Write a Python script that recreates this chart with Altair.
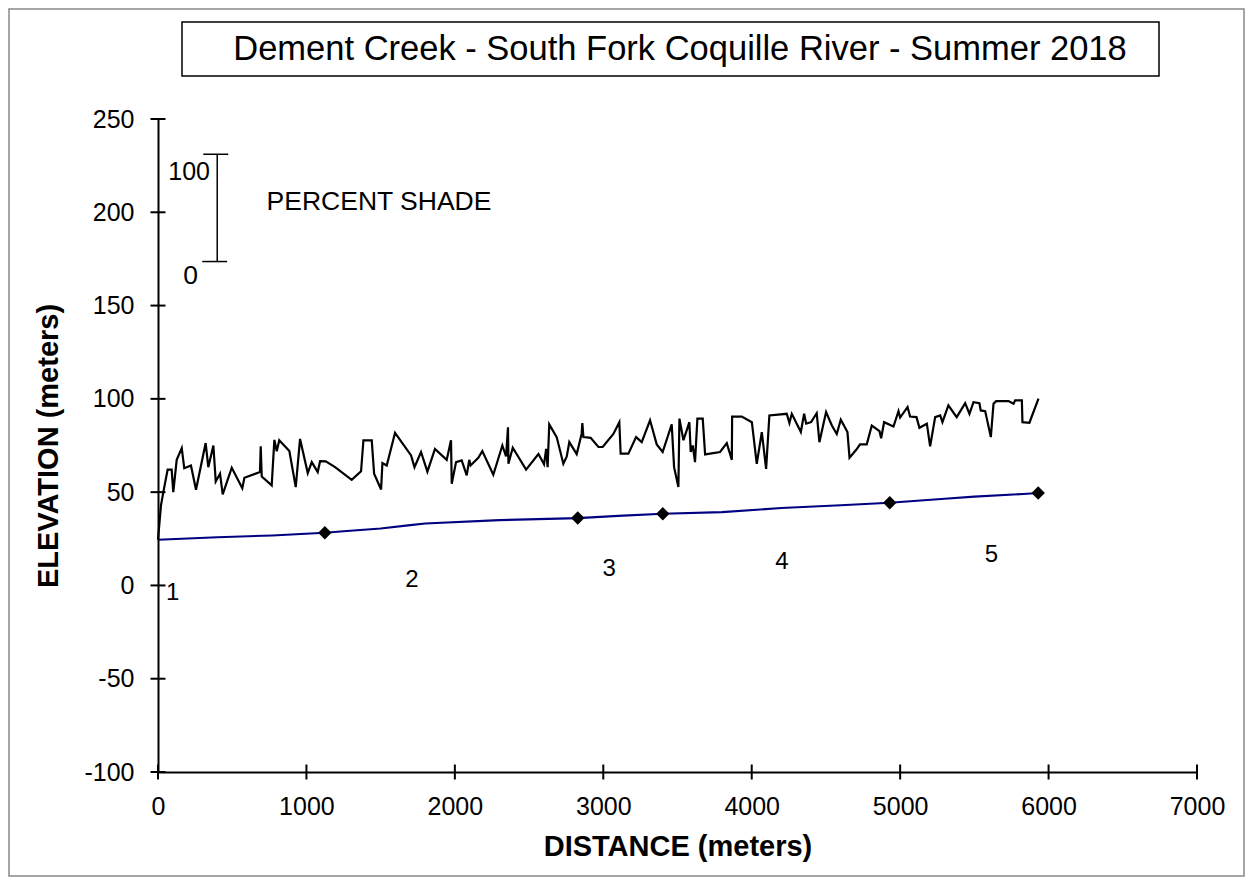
import altair as alt
import pandas as pd

# ---------------- data ----------------
shade_dist = [0, 20, 36, 65, 92, 103, 126, 160, 177, 222,
              256, 321, 339, 373, 389, 418, 436, 497, 568, 582,
              687, 692, 699, 766, 784, 800, 817, 885, 928, 957,
              1009, 1036, 1076, 1092, 1130, 1193, 1305, 1368, 1384, 1440,
              1456, 1503, 1512, 1541, 1597, 1705, 1728, 1772, 1815, 1866,
              1945, 1974, 1979, 2008, 2046, 2080, 2097, 2106, 2158, 2185,
              2259, 2320, 2345, 2358, 2361, 2390, 2480, 2563, 2601, 2615,
              2625, 2636, 2686, 2731, 2754, 2771, 2821, 2854, 2859, 2866,
              2915, 2967, 2996, 3068, 3108, 3117, 3169, 3221, 3259, 3315,
              3360, 3400, 3461, 3477, 3506, 3513, 3540, 3558, 3580, 3589,
              3603, 3618, 3634, 3670, 3686, 3787, 3832, 3866, 3868, 3933,
              4001, 4034, 4068, 4097, 4119, 4236, 4254, 4270, 4331, 4353,
              4367, 4400, 4438, 4456, 4501, 4540, 4573, 4600, 4645, 4659,
              4704, 4730, 4775, 4809, 4861, 4872, 4892, 4955, 4989, 5000,
              5050, 5067, 5110, 5130, 5180, 5202, 5236, 5270, 5285, 5325,
              5381, 5438, 5467, 5494, 5534, 5543, 5573, 5584, 5611, 5629,
              5647, 5730, 5764, 5775, 5820, 5824, 5871, 5932]
shade_elev = [24.5, 42.9, 50.0, 62.1, 62.1, 50.0, 67.3, 73.6, 62.8, 64.3,
              51.3, 76.3, 63.4, 75.0, 55.7, 59.9, 48.8, 63.1, 52.1, 57.7,
              60.8, 74.6, 58.4, 53.6, 78.0, 71.9, 77.8, 72.0, 52.7, 78.5,
              60.2, 66.1, 60.8, 66.6, 66.5, 63.4, 56.6, 61.2, 77.8, 77.8,
              59.9, 51.4, 65.6, 64.3, 81.8, 69.7, 63.4, 71.5, 61.0, 73.2,
              67.3, 77.8, 54.5, 66.1, 67.0, 59.0, 67.3, 64.3, 68.4, 72.0,
              59.3, 75.0, 69.1, 84.8, 65.2, 73.8, 62.1, 70.4, 64.9, 73.2,
              63.4, 86.3, 79.5, 65.2, 69.1, 76.8, 70.4, 81.2, 87.0, 79.5,
              79.1, 74.2, 74.2, 81.2, 87.5, 70.6, 70.6, 79.5, 76.8, 88.5,
              75.6, 71.5, 86.3, 63.4, 52.7, 89.4, 77.8, 82.2, 87.5, 71.5,
              75.0, 66.1, 89.4, 89.4, 70.2, 71.5, 76.3, 67.3, 90.5, 90.5,
              87.5, 65.2, 82.2, 62.5, 91.1, 92.0, 87.0, 92.0, 82.2, 92.0,
              86.7, 87.5, 92.3, 76.8, 92.9, 85.7, 81.2, 88.8, 82.2, 68.4,
              72.7, 75.6, 75.6, 85.7, 82.7, 78.9, 87.5, 85.2, 93.4, 90.0,
              95.6, 90.5, 90.2, 84.5, 86.7, 74.5, 90.2, 91.1, 87.5, 96.5,
              90.2, 97.7, 92.0, 98.2, 97.7, 93.8, 93.4, 89.4, 79.5, 97.4,
              98.8, 98.8, 97.4, 99.2, 99.2, 87.5, 87.2, 100.1]

elev_dist = [0, 400, 770, 1124, 1250, 1500, 1700, 1800, 2300, 2828,
             3100, 3401, 3800, 4200, 4600, 4930, 5300, 5500, 5831, 5930]
elev_vals = [24.5, 25.8, 26.8, 28.2, 29.0, 30.5, 32.3, 33.2, 35.0, 36.1,
             37.3, 38.4, 39.3, 41.5, 43.0, 44.3, 46.5, 47.6, 49.0, 49.5]

site_dist = [1124, 2828, 3401, 4930, 5930]
site_elev = [28.2, 36.1, 38.4, 44.3, 49.5]

reach_labels = ["1", "2", "3", "4", "5"]
reach_dist = [99, 1711, 3039, 4204, 5615]
reach_elev = [-3.8, 3.1, 8.9, 12.5, 16.1]

x_ticks = [0, 1000, 2000, 3000, 4000, 5000, 6000, 7000]
y_ticks = [-100, -50, 0, 50, 100, 150, 200, 250]

# scale bar for percent shade (drawn in data units)
bar_x = [399]
bar_y0 = [173.6]
bar_y1 = [231.1]
cap_x0 = [305, 298]
cap_x1 = [473, 466]
cap_y = [231.1, 173.6]
bar_text = ["100", "0", "PERCENT SHADE"]
bar_text_x = [350, 219, 1489]
bar_text_y = [221.5, 166.1, 205.3]
bar_text_align = ["right", "center", "center"]

title_text = "Dement Creek - South Fork Coquille River - Summer 2018"

FONT = "Liberation Sans"
W, H = 1039, 653
PAD = {"left": 150, "top": 111, "right": 48, "bottom": 105}

xs = alt.Scale(domain=[0, 7000], nice=False, zero=False)
ys = alt.Scale(domain=[-100, 250], nice=False, zero=False)

shade_df = pd.DataFrame([{"d": d, "e": e} for d, e in zip(shade_dist, shade_elev, strict=True)])
elev_df = pd.DataFrame([{"d": d, "e": e} for d, e in zip(elev_dist, elev_vals, strict=True)])
site_df = pd.DataFrame([{"d": d, "e": e} for d, e in zip(site_dist, site_elev, strict=True)])
reach_df = pd.DataFrame([{"t": t, "d": d, "e": e} for t, d, e in zip(reach_labels, reach_dist, reach_elev, strict=True)])
xt_df = pd.DataFrame({"v": x_ticks, "base": [-100] * len(x_ticks)})
yt_df = pd.DataFrame({"v": y_ticks, "base": [0] * len(y_ticks)})
bar_df = pd.DataFrame({"x": bar_x, "y0": bar_y0, "y1": bar_y1})
cap_df = pd.DataFrame({"x0": cap_x0, "x1": cap_x1, "y": cap_y})
btxt_df = pd.DataFrame({"t": bar_text, "x": bar_text_x, "y": bar_text_y, "a": bar_text_align})

one = alt.Data(values=[{}])

x_axis = alt.Axis(values=x_ticks, title="DISTANCE (meters)", grid=False, ticks=False, tickSize=0,
                  labelExpr="'' + datum.value",
                  labelFont=FONT, labelFontSize=25, labelColor="black", labelPadding=22,
                  domainColor="black", domainWidth=2, titleFont=FONT, titleFontSize=29,
                  titleFontWeight="bold", titleColor="black", titleBaseline="alphabetic",
                  titleAnchor="middle", titleX=W / 2, titleY=83, labelFlush=False,
                  labelOverlap=False, zindex=1)
y_axis = alt.Axis(values=y_ticks, title="ELEVATION (meters)", grid=False, ticks=False, tickSize=0,
                  labelExpr="'' + datum.value",
                  labelFont=FONT, labelFontSize=25, labelColor="black", labelPadding=24,
                  domainColor="black", domainWidth=2, titleFont=FONT, titleFontSize=29,
                  titleFontWeight="bold", titleColor="black", titleBaseline="alphabetic",
                  titleAnchor="middle", titleAngle=270, titleX=-101, titleY=H / 2,
                  labelFlush=False, labelOverlap=False, zindex=1)


def X(field):
    return alt.X(field, scale=xs, axis=x_axis)


def Y(field):
    return alt.Y(field, scale=ys, axis=y_axis)


frame = alt.Chart(one).mark_rect(fillOpacity=0, stroke="#888888", strokeWidth=1.5).encode(
    x=alt.value(-PAD["left"] + 1), x2=alt.value(W + PAD["right"] - 1),
    y=alt.value(-PAD["top"] + 1), y2=alt.value(H + PAD["bottom"] - 1))

title_box = alt.Chart(one).mark_rect(fillOpacity=0, stroke="black", strokeWidth=1.5).encode(
    x=alt.value(24), x2=alt.value(1001), y=alt.value(-97), y2=alt.value(-43))
title_mark = alt.Chart(one).mark_text(font=FONT, fontSize=34.5, color="black", align="center",
                                      baseline="middle").encode(
    x=alt.value(522), y=alt.value(-69), text=alt.value(title_text))

shade = alt.Chart(shade_df).mark_line(color="black", strokeWidth=2.2).encode(
    x=X("d:Q"), y=Y("e:Q"), order="d:Q")
elev = alt.Chart(elev_df).mark_line(color="#000080", strokeWidth=2.1).encode(
    x=X("d:Q"), y=Y("e:Q"), order="d:Q")
sites = alt.Chart(site_df).mark_point(shape="diamond", filled=True, color="black", size=180, opacity=1).encode(
    x=X("d:Q"), y=Y("e:Q"))
reaches = alt.Chart(reach_df).mark_text(font=FONT, fontSize=24, color="black", align="center",
                                        baseline="middle").encode(
    x=X("d:Q"), y=Y("e:Q"), text="t:N")

xticks = alt.Chart(xt_df).mark_tick(orient="vertical", color="black", thickness=2, size=15, opacity=1).encode(
    x=X("v:Q"), y=Y("base:Q"))
yticks = alt.Chart(yt_df).mark_tick(orient="horizontal", color="black", thickness=2, size=15, opacity=1).encode(
    y=Y("v:Q"), x=X("base:Q"))

bar = alt.Chart(bar_df).mark_rule(color="black", strokeWidth=1.5).encode(
    x=X("x:Q"), y=Y("y0:Q"), y2="y1:Q")
caps = alt.Chart(cap_df).mark_rule(color="black", strokeWidth=1.5).encode(
    x=X("x0:Q"), x2="x1:Q", y=Y("y:Q"))
btxt_r = alt.Chart(btxt_df).transform_filter(alt.datum.a == "right").mark_text(
    font=FONT, fontSize=25, color="black", align="right", baseline="middle").encode(
    x=X("x:Q"), y=Y("y:Q"), text="t:N")
btxt_c = alt.Chart(btxt_df).transform_filter(alt.datum.a == "center").mark_text(
    font=FONT, fontSize=26.5, color="black", align="center", baseline="middle").encode(
    x=X("x:Q"), y=Y("y:Q"), text="t:N")

chart = alt.layer(
    shade, elev, sites, reaches, xticks, yticks, bar, caps, btxt_r, btxt_c, frame, title_box, title_mark
).properties(
    width=W, height=H, autosize=alt.AutoSizeParams(type="none"), padding=PAD, background="white"
).configure_view(stroke=None)

chart.save("out.html", embed_options={"renderer": "svg", "actions": False})
